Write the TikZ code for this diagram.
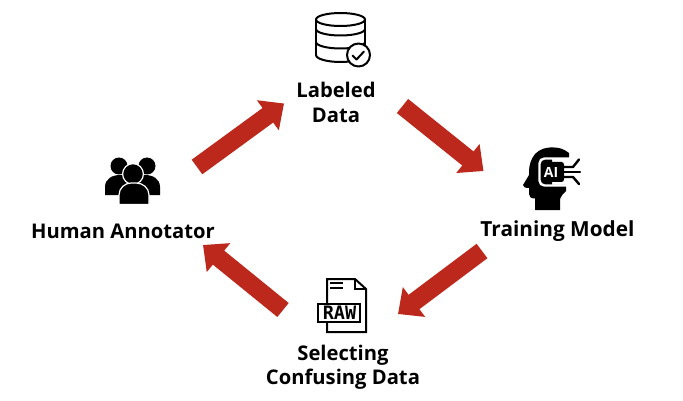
\documentclass[tikz,border=0pt]{standalone}
\usepackage{fontspec}
\setmainfont{Open Sans}
\newfontfamily\rawfont{DejaVu Sans Mono}
\usetikzlibrary{arrows.meta}
\definecolor{flowred}{RGB}{188,40,28}
\tikzset{
  x=1pt,y=-1pt,
  lbl/.style={font=\fontsize{20.2}{24.5}\selectfont\bfseries,align=center,text=black,inner sep=0pt},
  flow/.style={draw=flowred,line width=18pt,-{Triangle[length=20pt,width=36pt,fill=flowred]}},
  icon/.style={draw=black,line width=2pt,line join=round,line cap=round},
}
\begin{document}
\begin{tikzpicture}
\useasboundingbox (0,0) rectangle (683,401);
\fill[white] (0,0) rectangle (683,401);
% labels
\node[lbl] (labeled) at (336,102.5) {Labeled\\Data};
\node[lbl,font=\fontsize{20.8}{25}\selectfont\bfseries] (training) at (557.5,231) {Training Model};
\node[lbl] (selecting) at (343,367.5) {Selecting\\Confusing Data};
\node[lbl] (human) at (123,231) {Human Annotator};
% arrows
\coordinate (a1s) at (197,167); \coordinate (a1e) at (284,103.5);
\coordinate (a2s) at (402.5,106); \coordinate (a2e) at (483.5,171);
\coordinate (a3s) at (482,251); \coordinate (a3e) at (398,314);
\coordinate (a4s) at (283,310); \coordinate (a4e) at (203,245);
\draw[flow] (a1s) -- (a1e);
\draw[flow] (a2s) -- (a2e);
\draw[flow] (a3s) -- (a3e);
\draw[flow] (a4s) -- (a4e);
% database icon
\begin{scope}[icon]
\draw (316,19.5) arc[x radius=24.5,y radius=6.5,start angle=180,end angle=-180];
\draw (316,19.5) -- (316,55);
\draw (365,19.5) -- (365,45);
\draw (316,29) arc[x radius=24.5,y radius=6.5,start angle=180,end angle=0];
\draw (316,42) arc[x radius=24.5,y radius=6.5,start angle=180,end angle=0];
\draw (316,55) arc[x radius=24.5,y radius=7,start angle=180,end angle=0];
\filldraw[fill=white] (358.5,55) circle (11.5);
\draw (352.5,55.5) -- (356.5,59.5) -- (364,51.5);
\end{scope}
% AI head icon
\fill[black] (569,153) .. controls (564,149) and (559,147.5) .. (554,147.5)
  .. controls (546,147) and (540,149) .. (535,154)
  .. controls (531,159) and (529,165) .. (529,172)
  -- (529,175) -- (523,185) .. controls (523,187) and (525,188) .. (529,188)
  -- (529,194) .. controls (529,197) and (531,198.5) .. (535,198.5)
  -- (535,210) -- (560,210) -- (560,199) .. controls (561,196) and (563,194) .. (566,191)
  -- (566,185) -- (552,185) -- (552,158) -- (569,158) -- cycle;
\draw[white,line width=2.4pt,rounded corners=5pt] (571,158.5) -- (539.5,158.5) -- (539.5,185.5) -- (571,185.5);
\fill[black,rounded corners=2.5pt] (543,162) rectangle (564,182);
\node[font=\fontsize{14}{14}\selectfont\bfseries,text=white,inner sep=0pt] (ai) at (551,172) {AI};
\begin{scope}[draw=black,line width=2.4pt,line cap=round,line join=round]
\draw (563,167) -- (573,167) -- (579,159.5);
\draw (563,172) -- (580,172);
\draw (563,177) -- (573,177) -- (579,184);
\end{scope}
% RAW file icon
\begin{scope}[icon,line cap=butt,line join=miter]
\draw (327,304) -- (327,279) -- (355,279) -- (366,289) -- (366,332) -- (327,332) -- (327,322);
\draw (355,279) -- (355,289) -- (366,289);
\draw (330,283) -- (343,283);
\draw (330,287.5) -- (343,287.5);
\filldraw[fill=white] (318,303.5) rectangle (360,322);
\end{scope}
\node[font=\fontsize{18.5}{18.5}\selectfont\rawfont\bfseries,inner sep=0pt] (raw) at (339.5,313) {RAW};
% people icon
\fill[black] (119,166) circle (8.5);
\fill[black] (147,166) circle (8.5);
\fill[black] (105,195) -- (105,187) .. controls (105,179) and (112,175) .. (120,175)
  -- (145,175) .. controls (153,175) and (160,179) .. (160,187) -- (160,195) -- cycle;
\filldraw[fill=black,draw=white,line width=1.2pt] (133,174) circle (10.4);
\filldraw[fill=black,draw=white,line width=1.2pt] (119,204.5) -- (119,195)
  .. controls (119,188) and (125,183) .. (131,183) -- (136,183)
  .. controls (143,183) and (149,188) .. (149,195) -- (149,204.5) -- cycle;
\end{tikzpicture}
\end{document}
